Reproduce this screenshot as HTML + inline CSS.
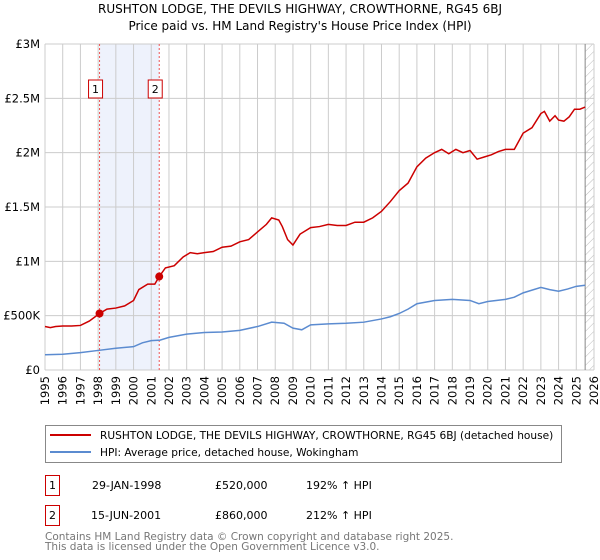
<!DOCTYPE html>
<html><head><meta charset="utf-8"><style>
body{margin:0;background:#fff;font-family:"DejaVu Sans","Liberation Sans",sans-serif;}
svg{display:block}
</style></head><body>
<svg width="600" height="560" viewBox="0 0 600 560" xmlns="http://www.w3.org/2000/svg" font-family="DejaVu Sans, Liberation Sans, sans-serif">
<defs>
<pattern id="hatch" width="6" height="6" patternUnits="userSpaceOnUse" patternTransform="rotate(45)">
<line x1="0" y1="0" x2="0" y2="6" stroke="#bbb" stroke-width="1"/>
</pattern>
</defs>
<text x="300" y="13" text-anchor="middle" font-size="12" fill="#000">RUSHTON LODGE, THE DEVILS HIGHWAY, CROWTHORNE, RG45 6BJ</text>
<text x="300" y="30" text-anchor="middle" font-size="12" fill="#000">Price paid vs. HM Land Registry's House Price Index (HPI)</text>
<g id="plot"></g>
<g id="legend">
<rect x="45.5" y="425.5" width="516" height="37" fill="#fff" stroke="#888"/>
<line x1="50" y1="435" x2="91" y2="435" stroke="#cc0000" stroke-width="2"/>
<text x="100" y="439" font-size="10.6">RUSHTON LODGE, THE DEVILS HIGHWAY, CROWTHORNE, RG45 6BJ (detached house)</text>
<line x1="50" y1="452" x2="91" y2="452" stroke="#5b8bd0" stroke-width="2"/>
<text x="100" y="456" font-size="10.6">HPI: Average price, detached house, Wokingham</text>
</g>
<g font-size="11">
<rect x="45.5" y="475.5" width="14" height="20" fill="#fff" stroke="#cc0000"/>
<text x="52.5" y="489" text-anchor="middle">1</text>
<text x="92" y="489">29-JAN-1998</text>
<text x="215" y="489">£520,000</text>
<text x="306" y="489">192% ↑ HPI</text>
<rect x="45.5" y="505.5" width="14" height="20" fill="#fff" stroke="#cc0000"/>
<text x="52.5" y="519" text-anchor="middle">2</text>
<text x="91" y="519">15-JUN-2001</text>
<text x="215" y="519">£860,000</text>
<text x="306" y="519">212% ↑ HPI</text>
</g>
<text x="45" y="540" font-size="10.5" fill="#777">Contains HM Land Registry data © Crown copyright and database right 2025.</text>
<text x="45" y="550" font-size="10.5" fill="#777">This data is licensed under the Open Government Licence v3.0.</text>
</svg>
<script>
const yTicks=[0,500000,1000000,1500000,2000000,2500000,3000000];
const yTickLabels=["£0","£500K","£1M","£1.5M","£2M","£2.5M","£3M"];
const years=[1995,1996,1997,1998,1999,2000,2001,2002,2003,2004,2005,2006,2007,2008,2009,2010,2011,2012,2013,2014,2015,2016,2017,2018,2019,2020,2021,2022,2023,2024,2025,2026];
const redT=[1995,1995.3,1995.6,1996,1996.5,1997,1997.5,1998.08,1998.5,1999,1999.5,2000,2000.3,2000.8,2001.2,2001.45,2001.8,2002.3,2002.8,2003.2,2003.6,2004,2004.5,2005,2005.5,2006,2006.5,2007,2007.5,2007.8,2008.2,2008.4,2008.7,2009,2009.4,2010,2010.5,2011,2011.5,2012,2012.5,2013,2013.5,2014,2014.5,2015,2015.5,2016,2016.5,2017,2017.4,2017.8,2018.2,2018.6,2019,2019.4,2019.8,2020.2,2020.6,2021,2021.5,2022,2022.5,2023,2023.2,2023.5,2023.8,2024,2024.3,2024.6,2024.9,2025.2,2025.5];
const redV=[400000,390000,400000,405000,405000,410000,450000,520000,560000,570000,590000,640000,740000,790000,790000,860000,940000,960000,1040000,1080000,1070000,1080000,1090000,1130000,1140000,1180000,1200000,1270000,1340000,1400000,1380000,1320000,1200000,1150000,1250000,1310000,1320000,1340000,1330000,1330000,1360000,1360000,1400000,1460000,1550000,1650000,1720000,1870000,1950000,2000000,2030000,1990000,2030000,2000000,2020000,1940000,1960000,1980000,2010000,2030000,2030000,2180000,2230000,2360000,2380000,2290000,2340000,2300000,2290000,2330000,2400000,2400000,2420000];
const hpiT=[1995,1996,1997,1998,1999,2000,2000.5,2001,2001.5,2002,2003,2004,2005,2006,2007,2007.8,2008.5,2009,2009.5,2010,2011,2012,2013,2014,2014.5,2015,2015.5,2016,2017,2018,2019,2019.5,2020,2021,2021.5,2022,2023,2023.5,2024,2024.5,2025,2025.5];
const hpiV=[140000,145000,160000,180000,200000,215000,250000,270000,275000,300000,330000,345000,350000,365000,400000,440000,430000,385000,370000,415000,425000,430000,440000,470000,490000,520000,560000,610000,640000,650000,640000,610000,630000,650000,670000,710000,760000,740000,725000,745000,770000,780000];
const sales=[[1998.08,520000],[2001.45,860000]];
const X0=45,X1=594,Y0=370,Y1=44;
const xs=t=>X0+(t-1995)/(2026-1995)*(X1-X0);
const ys=v=>Y0-v/3000000*(Y0-Y1);
const NS="http://www.w3.org/2000/svg";
const g=document.getElementById('plot');
function mk(tag,attrs){const e=document.createElementNS(NS,tag);for(const k in attrs)e.setAttribute(k,attrs[k]);g.appendChild(e);return e;}
let r=mk('rect',{x:xs(sales[0][0]),y:Y1,width:xs(sales[1][0])-xs(sales[0][0]),height:Y0-Y1,fill:'#eef2fc'});


let h=mk('rect',{x:xs(2025.5),y:Y1,width:X1-xs(2025.5),height:Y0-Y1,fill:'url(#hatch)'});


years.forEach(y=>{let l=mk('line',{x1:xs(y),x2:xs(y),y1:Y1,y2:Y0,stroke:'#ccc','stroke-width':1});


let t=mk('text',{x:0,y:0,'font-size':11.5,'text-anchor':'end',transform:`translate(${xs(y)+4},${Y0+6}) rotate(-90)`});t.textContent=y;

});
yTicks.forEach((v,i)=>{let l=mk('line',{x1:X0,x2:X1,y1:ys(v),y2:ys(v),stroke:'#ccc','stroke-width':1});


let t=mk('text',{x:40,y:ys(v)+4,'font-size':11.5,'text-anchor':'end'});t.textContent=yTickLabels[i];

});
let vl=mk('line',{x1:xs(2025.5),x2:xs(2025.5),y1:Y1,y2:Y0,stroke:'#888','stroke-width':1});


sales.forEach((s,i)=>{let l=mk('line',{x1:xs(s[0]),x2:xs(s[0]),y1:Y1,y2:Y0,stroke:'#e55','stroke-width':1,'stroke-dasharray':'2,2'});


let b=mk('rect',{x:xs(s[0])-11,y:80,width:14,height:18,fill:'#fff',stroke:'#cc0000'});


let t=mk('text',{x:xs(s[0])-4,y:93,'font-size':11,'text-anchor':'middle'});t.textContent=String(i+1);

});
let hp=mk('polyline',{points:hpiT.map((t,i)=>xs(t)+','+ys(hpiV[i])).join(' '),fill:'none',stroke:'#5b8bd0','stroke-width':1.5});


let rp=mk('polyline',{points:redT.map((t,i)=>xs(t)+','+ys(redV[i])).join(' '),fill:'none',stroke:'#cc0000','stroke-width':1.5});


sales.forEach(s=>{let c=mk('circle',{cx:xs(s[0]),cy:ys(s[1]),r:4,fill:'#cc0000'});

});
</script>
</body></html>
